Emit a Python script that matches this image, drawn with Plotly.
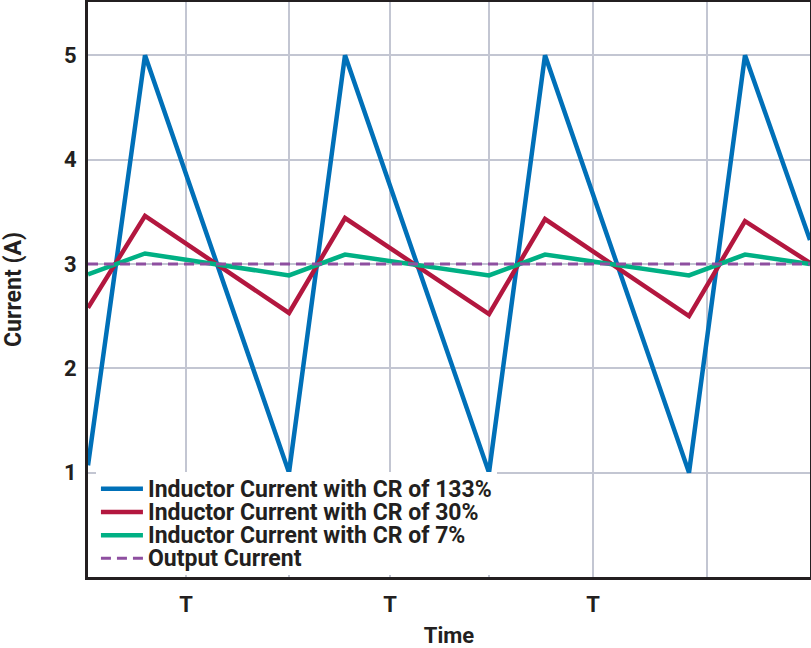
import plotly.graph_objects as go

# Time axis in units of switching periods
x_cr133 = [-0.005, 0.28, 1.0, 1.28, 2.0, 2.28, 3.0, 3.28, 3.605]
y_cr133 = [1.07, 5.0, 1.0, 5.0, 1.0, 5.0, 1.0, 5.0, 3.23]

x_cr30 = [-0.005, 0.28, 1.0, 1.28, 2.0, 2.28, 3.0, 3.28, 3.605]
y_cr30 = [2.58, 3.46, 2.53, 3.44, 2.52, 3.43, 2.50, 3.41, 3.01]

x_cr7 = [-0.005, 0.28, 1.0, 1.28, 2.0, 2.28, 3.0, 3.28, 3.605]
y_cr7 = [2.90, 3.10, 2.89, 3.09, 2.89, 3.09, 2.89, 3.09, 3.00]

x_out = [-0.005, 3.605]
y_out = [3.0, 3.0]

grid_x = [0.485, 1.0, 1.505, 2.0, 2.52, 3.09]
grid_labels = ["T", "", "T", "", "T", ""]
y_ticks = [1, 2, 3, 4, 5]

names = ["Inductor Current with CR of 133%", "Inductor Current with CR of 30%",
         "Inductor Current with CR of 7%", "Output Current"]

dark = "#231f20"
grid = "#c3c6d2"
font_family = "Roboto"


def big(t):
    return '<span style="font-size:23px;baseline-shift:-2px">' + t + '</span>'


fig = go.Figure()
fig.add_trace(go.Scatter(x=x_cr133, y=y_cr133, mode="lines", name=big(names[0]),
                         line=dict(color="#0070b8", width=4.5)))
fig.add_trace(go.Scatter(x=x_cr30, y=y_cr30, mode="lines", name=big(names[1]),
                         line=dict(color="#b3173f", width=4.5)))
fig.add_trace(go.Scatter(x=x_cr7, y=y_cr7, mode="lines", name=big(names[2]),
                         line=dict(color="#00b084", width=4.5)))
fig.add_trace(go.Scatter(x=x_out, y=y_out, mode="lines", name=big(names[3]),
                         line=dict(color="#8e4fa0", width=3, dash="10px,6px")))

fig.update_layout(
    width=811, height=648,
    margin=dict(l=88, r=1, t=2, b=71),
    paper_bgcolor="white", plot_bgcolor="white",
    font=dict(family=font_family, color=dark, size=22, weight="bold"),
    legend=dict(x=0.011, y=0.003, xanchor="left", yanchor="bottom",
                bgcolor="white", borderwidth=0, itemwidth=42,
                font=dict(size=15.5, family=font_family, color=dark, weight="bold")),
    xaxis=dict(range=[-0.005, 3.605], tickvals=grid_x, ticktext=grid_labels,
               showgrid=True, gridcolor=grid, gridwidth=2,
               showline=True, linecolor=dark, linewidth=3, mirror=True,
               ticks="", zeroline=False, automargin=False, ticklabelstandoff=6,
               tickfont=dict(size=22, weight="bold"),
               title=dict(text="Time", font=dict(size=22, weight="bold"), standoff=26)),
    yaxis=dict(range=[0, 5.51], tickvals=y_ticks,
               showgrid=True, gridcolor=grid, gridwidth=2,
               showline=True, linecolor=dark, linewidth=3, mirror=True,
               ticks="", zeroline=False, automargin=False, ticklabelstandoff=4,
               tickfont=dict(size=22, weight="bold"),
               title=dict(text="Current (A)", font=dict(size=23, weight="bold"), standoff=43)),
)

fig.write_html("out.html", config={"displayModeBar": False},
               post_script="document.body.style.margin='0';")
